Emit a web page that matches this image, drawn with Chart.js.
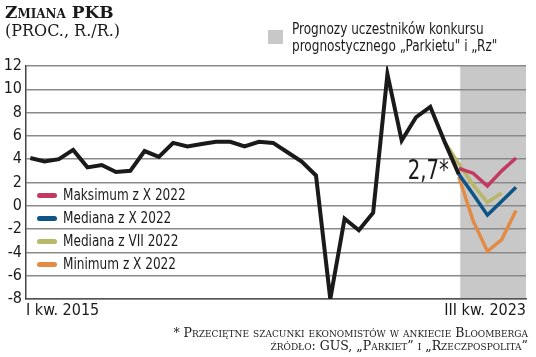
<!DOCTYPE html>
<html>
<head>
<meta charset="utf-8">
<script src="https://cdn.jsdelivr.net/npm/chart.js@4.4.0/dist/chart.umd.min.js"></script>
<style>
  html, body { margin:0; padding:0; background:#fff; }
  #wrap { position:relative; width:536px; height:357px; overflow:hidden; }
  #c { position:absolute; left:0; top:0; }
  .cond { font-family: "Liberation Sans Narrow", "DejaVu Sans Condensed", "Roboto", sans-serif; color:#1a1a1a; }
  .serif { font-family: "DejaVu Serif", "Liberation Serif", serif; color:#1a1a1a; }
  .sq { display:inline-block; transform:scaleX(0.84); transform-origin:left center; }
  #title { position:absolute; left:5px; top:2px; font-size:17px; font-weight:bold; font-variant:small-caps; white-space:nowrap; }
  #sub { position:absolute; left:5px; top:21px; font-size:16px; white-space:nowrap; }
  #shadeKey { position:absolute; left:268px; top:30px; width:15px; height:14px; background:#c8c8c8; }
  #shadeTxt { position:absolute; left:292px; top:20px; font-size:16px; line-height:17px; white-space:nowrap; }
  .lg { position:absolute; left:37px; height:20px; font-size:16px; line-height:20px; white-space:nowrap; }
  .lg span.sw { position:absolute; left:0; top:8px; width:20px; height:5px; border-radius:3px; }
  .lg span.tx { position:absolute; left:26px; top:0; }
  #foot { position:absolute; right:8px; top:326px; font-size:12.5px; line-height:13px; text-align:right; font-variant:small-caps; white-space:nowrap; }
</style>
</head>
<body>
<div id="wrap">
  <canvas id="c" width="536" height="357"></canvas>
  <div id="title" class="serif">Zmiana PKB</div>
  <div id="sub" class="serif">(PROC., R./R.)</div>
  <div id="shadeKey"></div>
  <div id="shadeTxt" class="cond"><span class="sq">Prognozy uczestników konkursu<br>prognostycznego „Parkietu" i „Rz"</span></div>
  <div id="legend"></div>
  <div id="foot" class="serif">* Przeciętne szacunki ekonomistów w ankiecie Bloomberga<br>źródło: GUS, „Parkiet” i „Rzeczpospolita”</div>
</div>
<script>
// quarters 2015 Q1 ... 2023 Q3
const quarters = [];
for (let y = 2015; y <= 2023; y++) for (const q of ['I','II','III','IV']) quarters.push(q + ' kw. ' + y);
quarters.length = 35;

const xTickLabels = ['I kw. 2015', 'III kw. 2023'];
const yTicks = [-8,-6,-4,-2,0,2,4,6,8,10,12];

// actual GDP y/y (2015 Q1 - 2022 Q3 estimate)
const gdpActual = [4.1, 3.8, 4.0, 4.8, 3.3, 3.5, 2.9, 3.0, 4.7, 4.2, 5.4, 5.1,
                   5.3, 5.5, 5.5, 5.1, 5.5, 5.4, 4.6, 3.8, 2.6, -8.0, -1.1, -2.1,
                   -0.6, 11.3, 5.6, 7.6, 8.5, 5.5, 2.7];
const actualStart = 0;

// forecasts
const maxX2022 = [3.2, 2.8, 1.7, 3.0, 4.1];      // from 2022 Q3
const medX2022 = [2.7, 1.0, -0.8, 0.4, 1.6];     // from 2022 Q3
const medVII2022 = [5.5, 3.6, 1.8, 0.3, 1.1];    // from 2022 Q2
const minX2022 = [2.5, -1.3, -3.9, -2.9, -0.4];  // from 2022 Q3
const forecastStart = 30;
const medVIIStart = 29;
const estimateLabel = '2,7*';

const seriesNames = ['Maksimum z X 2022', 'Mediana z X 2022', 'Mediana z VII 2022', 'Minimum z X 2022'];
const seriesColors = ['#c23a60', '#0c5586', '#b9b76a', '#e38b45'];

function pts(arr, start) { return arr.map((v, i) => ({x: start + i, y: v})); }

const condFont = '"Liberation Sans Narrow", "DejaVu Sans Condensed", Roboto, sans-serif';

// html legend
const lg = document.getElementById('legend');
const lgTops = [185, 208, 231, 254];
seriesNames.forEach((n, i) => {
  const d = document.createElement('div');
  d.className = 'lg cond';
  d.style.top = lgTops[i] + 'px';
  d.innerHTML = '<span class="sw" style="background:' + seriesColors[i] + '"></span><span class="tx sq">' + n + '</span>';
  lg.appendChild(d);
});

const shadePlugin = {
  id: 'shade',
  beforeDraw(chart) {
    const {ctx, chartArea, scales} = chart;
    const x0 = scales.x.getPixelForValue(forecastStart + 0.1);
    ctx.save();
    ctx.fillStyle = '#c8c8c8';
    ctx.fillRect(x0, chartArea.top, chartArea.right - x0, chartArea.bottom - chartArea.top);
    ctx.restore();
  }
};
const labelPlugin = {
  id: 'estLabel',
  afterDatasetsDraw(chart) {
    const {ctx, scales} = chart;
    const px = scales.x.getPixelForValue(forecastStart);
    const py = scales.y.getPixelForValue(gdpActual[gdpActual.length - 1]);
    ctx.save();
    ctx.translate(px - 10, py + 5);
    ctx.scale(0.84, 1);
    ctx.font = '26px ' + condFont;
    ctx.fillStyle = '#1a1a1a';
    ctx.textAlign = 'right';
    ctx.textBaseline = 'alphabetic';
    ctx.fillText(estimateLabel, 0, 0);
    ctx.restore();
  }
};

const lineDs = (label, data, color, w) => ({
  label, data, borderColor: color, backgroundColor: color, borderWidth: w,
  pointRadius: 0, tension: 0, fill: false, borderJoinStyle: 'miter', borderCapStyle: 'butt'
});

new Chart(document.getElementById('c'), {
  type: 'line',
  data: {
    datasets: [
      lineDs('PKB', pts(gdpActual, actualStart), '#1a1a1a', 4),
      lineDs(seriesNames[0], pts(maxX2022, forecastStart), seriesColors[0], 3.5),
      lineDs(seriesNames[1], pts(medX2022, forecastStart), seriesColors[1], 3.5),
      lineDs(seriesNames[2], pts(medVII2022, medVIIStart), seriesColors[2], 3.5),
      lineDs(seriesNames[3], pts(minX2022, forecastStart), seriesColors[3], 3.5),
    ]
  },
  options: {
    responsive: false,
    animation: false,
    devicePixelRatio: 1,
    layout: { padding: { top: 66, right: 10, left: 0, bottom: 0 } },
    plugins: { legend: { display: false }, tooltip: { enabled: false } },
    scales: {
      x: {
        type: 'linear',
        min: -0.3, max: 34.7,
        afterFit(s) { s.height = 58; },
        afterBuildTicks(s) { s.ticks = [{value: -0.3}, {value: 34.7}]; },
        grid: { display: false, drawTicks: false },
        border: { display: true, color: '#555', width: 1.5 },
        ticks: {
          align: 'inner', padding: 2, maxRotation: 0, autoSkip: false,
          color: '#1a1a1a', font: { family: condFont, size: 16 },
          callback: (v, i) => xTickLabels[i]
        }
      },
      y: {
        min: -8, max: 12,
        afterFit(s) { s.width = 26; },
        afterBuildTicks(s) { s.ticks = yTicks.map(v => ({value: v})); },
        grid: { color: '#8a8a8a', lineWidth: 1.5, drawTicks: false },
        border: { display: true, color: '#444', width: 1.5 },
        ticks: { padding: 4, color: '#1a1a1a', font: { family: condFont, size: 16 } }
      }
    }
  },
  plugins: [shadePlugin, labelPlugin]
});
</script>
</body>
</html>
